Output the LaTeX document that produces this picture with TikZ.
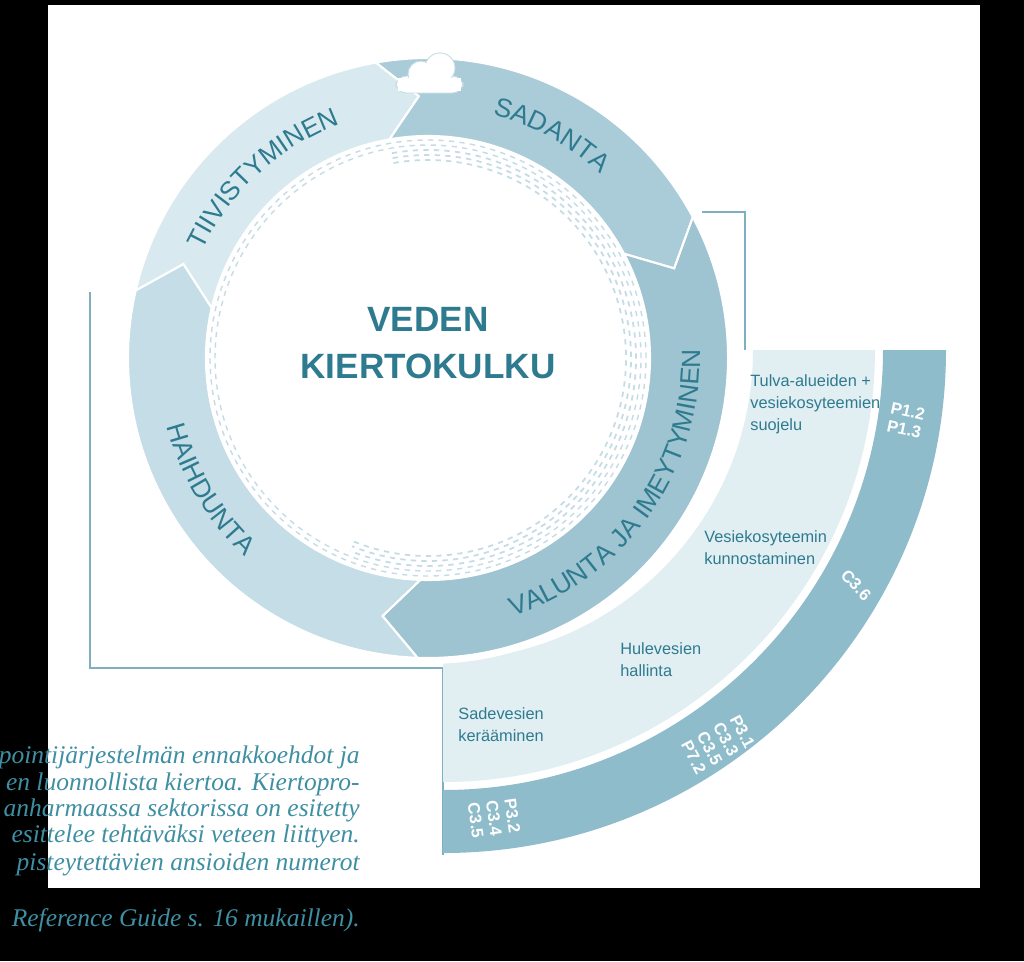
\documentclass[tikz,border=0pt]{standalone}
\usepackage{fontspec}
\setmainfont{Liberation Sans}
\newfontfamily\capfont{Liberation Serif}
\usetikzlibrary{decorations.text}
\definecolor{tiivcol}{HTML}{D8E9EF}
\definecolor{sadcol}{HTML}{A9CCD8}
\definecolor{valcol}{HTML}{9EC3D1}
\definecolor{haicol}{HTML}{C4DDE6}
\definecolor{seclight}{HTML}{E1EEF2}
\definecolor{secdark}{HTML}{8FBCCB}
\definecolor{framecol}{HTML}{7FB0C0}
\definecolor{dashcol}{HTML}{C6DCE4}
\definecolor{txtcol}{HTML}{2E7B90}
\definecolor{captcol}{HTML}{3F8FA3}
\newcommand{\ringfont}{\fontsize{15}{18}\selectfont\color{txtcol}}
% one arrow segment of the ring: from angle #1 clockwise to angle #2
\newcommand{\ringseg}[3]{%
  \fill[#3, draw=white, line width=1.2pt]
    (#1:300) arc[start angle=#1, end angle=#2, radius=300]
    -- (#2-8:262) -- (#2:222) arc[start angle=#2, end angle=#1, radius=222]
    -- (#1-8:262) -- cycle;}
\tikzset{
  sectxt/.style={text=txtcol, font=\fontsize{9.3}{12.5}\selectfont, align=left, anchor=north west, inner sep=0pt},
  codetxt/.style={text=white, font=\bfseries\fontsize{9.5}{10.5}\selectfont, align=left, inner sep=0pt},
  captxt/.style={text=captcol, font=\capfont\itshape\fontsize{14.5}{15}\selectfont, anchor=base east, inner sep=0pt},
  ringtext/.style={decorate, decoration={text along path, text align=center, text={|\ringfont|#1}}}
}
\begin{document}
\begin{tikzpicture}[x=0.02cm, y=0.02cm]
  \useasboundingbox (0,0) rectangle (1024,-961);
  \fill[black] (0,0) rectangle (1024,-961);
  \fill[white] (48,-5) rectangle (980,-888);

  % frame lines
  \draw[framecol, line width=0.8pt] (90,-292) -- (90,-668) -- (443,-668) -- (443,-855);
  \draw[framecol, line width=0.8pt] (702,-212) -- (745,-212) -- (745,-350);

  % sector
  \begin{scope}[shift={(443,-350)}]
    \fill[seclight] (0:310) -- (0:432) arc[start angle=0, end angle=-90, radius=432]
      -- (-90:310) arc[start angle=-90, end angle=0, radius=310] -- cycle;
    \fill[secdark] (0:440) -- (0:503) arc[start angle=0, end angle=-90, radius=503]
      -- (-90:440) arc[start angle=-90, end angle=0, radius=440] -- cycle;
  \end{scope}
  \fill[white] (428,-358) circle[radius=306];

  \begin{scope}[shift={(428,-358)}]
    % dashed bands
    \foreach \r in {213,218}
      \draw[dashcol, dashed, line width=0.8pt] (0,0) circle[radius=\r];
    \foreach \r in {198,203,208}
      \draw[dashcol, dashed, line width=1pt] (100:\r) arc[start angle=100, end angle=-112, radius=\r];
    % ring segments
    \ringseg{167}{100}{tiivcol}
    \ringseg{100}{28}{sadcol}
    \ringseg{28}{-92}{valcol}
    \ringseg{268}{167}{haicol}
    % ring labels
    \path[ringtext=TIIVISTYMINEN] (157:250) arc[start angle=157, end angle=108, radius=250];
    \path[ringtext=SADANTA] (82:252) arc[start angle=82, end angle=40, radius=252];
    \path[ringtext=VALUNTA JA IMEYTYMINEN] (-78:272) arc[start angle=-78, end angle=8, radius=272];
    \path[ringtext=HAIHDUNTA] (186:270) arc[start angle=186, end angle=236, radius=270];
  \end{scope}

  % cloud
  \begin{scope}[fill=white, draw=dashcol, line width=0.5pt]
    \filldraw[rounded corners=6pt] (396,-76) rectangle (463,-93);
    \filldraw (421,-74) circle[radius=13];
    \filldraw (440,-68) circle[radius=15];
    \fill (398,-78) rectangle (461,-91);
    \fill (421,-74) circle[radius=12];
    \fill (440,-68) circle[radius=14];
  \end{scope}

  \node[text=txtcol, font=\bfseries\fontsize{20}{27}\selectfont, align=center] (title) at (428,-343) {VEDEN\\KIERTOKULKU};

  % sector texts
  \node[sectxt] (tulva) at (750,-374) {Tulva-alueiden +\\vesiekosyteemien\\suojelu};
  \node[sectxt] (vesi) at (704,-530) {Vesiekosyteemin\\kunnostaminen};
  \node[sectxt] (hule) at (620,-642) {Hulevesien\\hallinta};
  \node[sectxt] (sade) at (458,-707) {Sadevesien\\kerääminen};

  % codes
  \node[codetxt, rotate=-12] (p12) at (906,-420) {P1.2\\P1.3};
  \node[codetxt, rotate=-47] (c36) at (856,-585) {C3.6};
  \node[codetxt, rotate=-62, align=right] (p31) at (718,-744) {P3.1\\C3.3\\C3.5\\P7.2};
  \node[codetxt, rotate=-82, align=right] (p32) at (494,-818) {P3.2\\C3.4\\C3.5};

  % caption
  \node[captxt] (c1) at (360,-763) {pointijärjestelmän ennakkoehdot ja};
  \node[captxt] (c2) at (360,-790) {en luonnollista kiertoa. Kiertopro-};
  \node[captxt] (c3) at (360,-816) {anharmaassa sektorissa on esitetty};
  \node[captxt] (c4) at (360,-842) {esittelee tehtäväksi veteen liittyen.};
  \node[captxt] (c5) at (360,-870) {pisteytettävien ansioiden numerot};
  \node[captxt] (c6) at (360,-926) {Reference Guide s. 16 mukaillen).};
\end{tikzpicture}
\end{document}
